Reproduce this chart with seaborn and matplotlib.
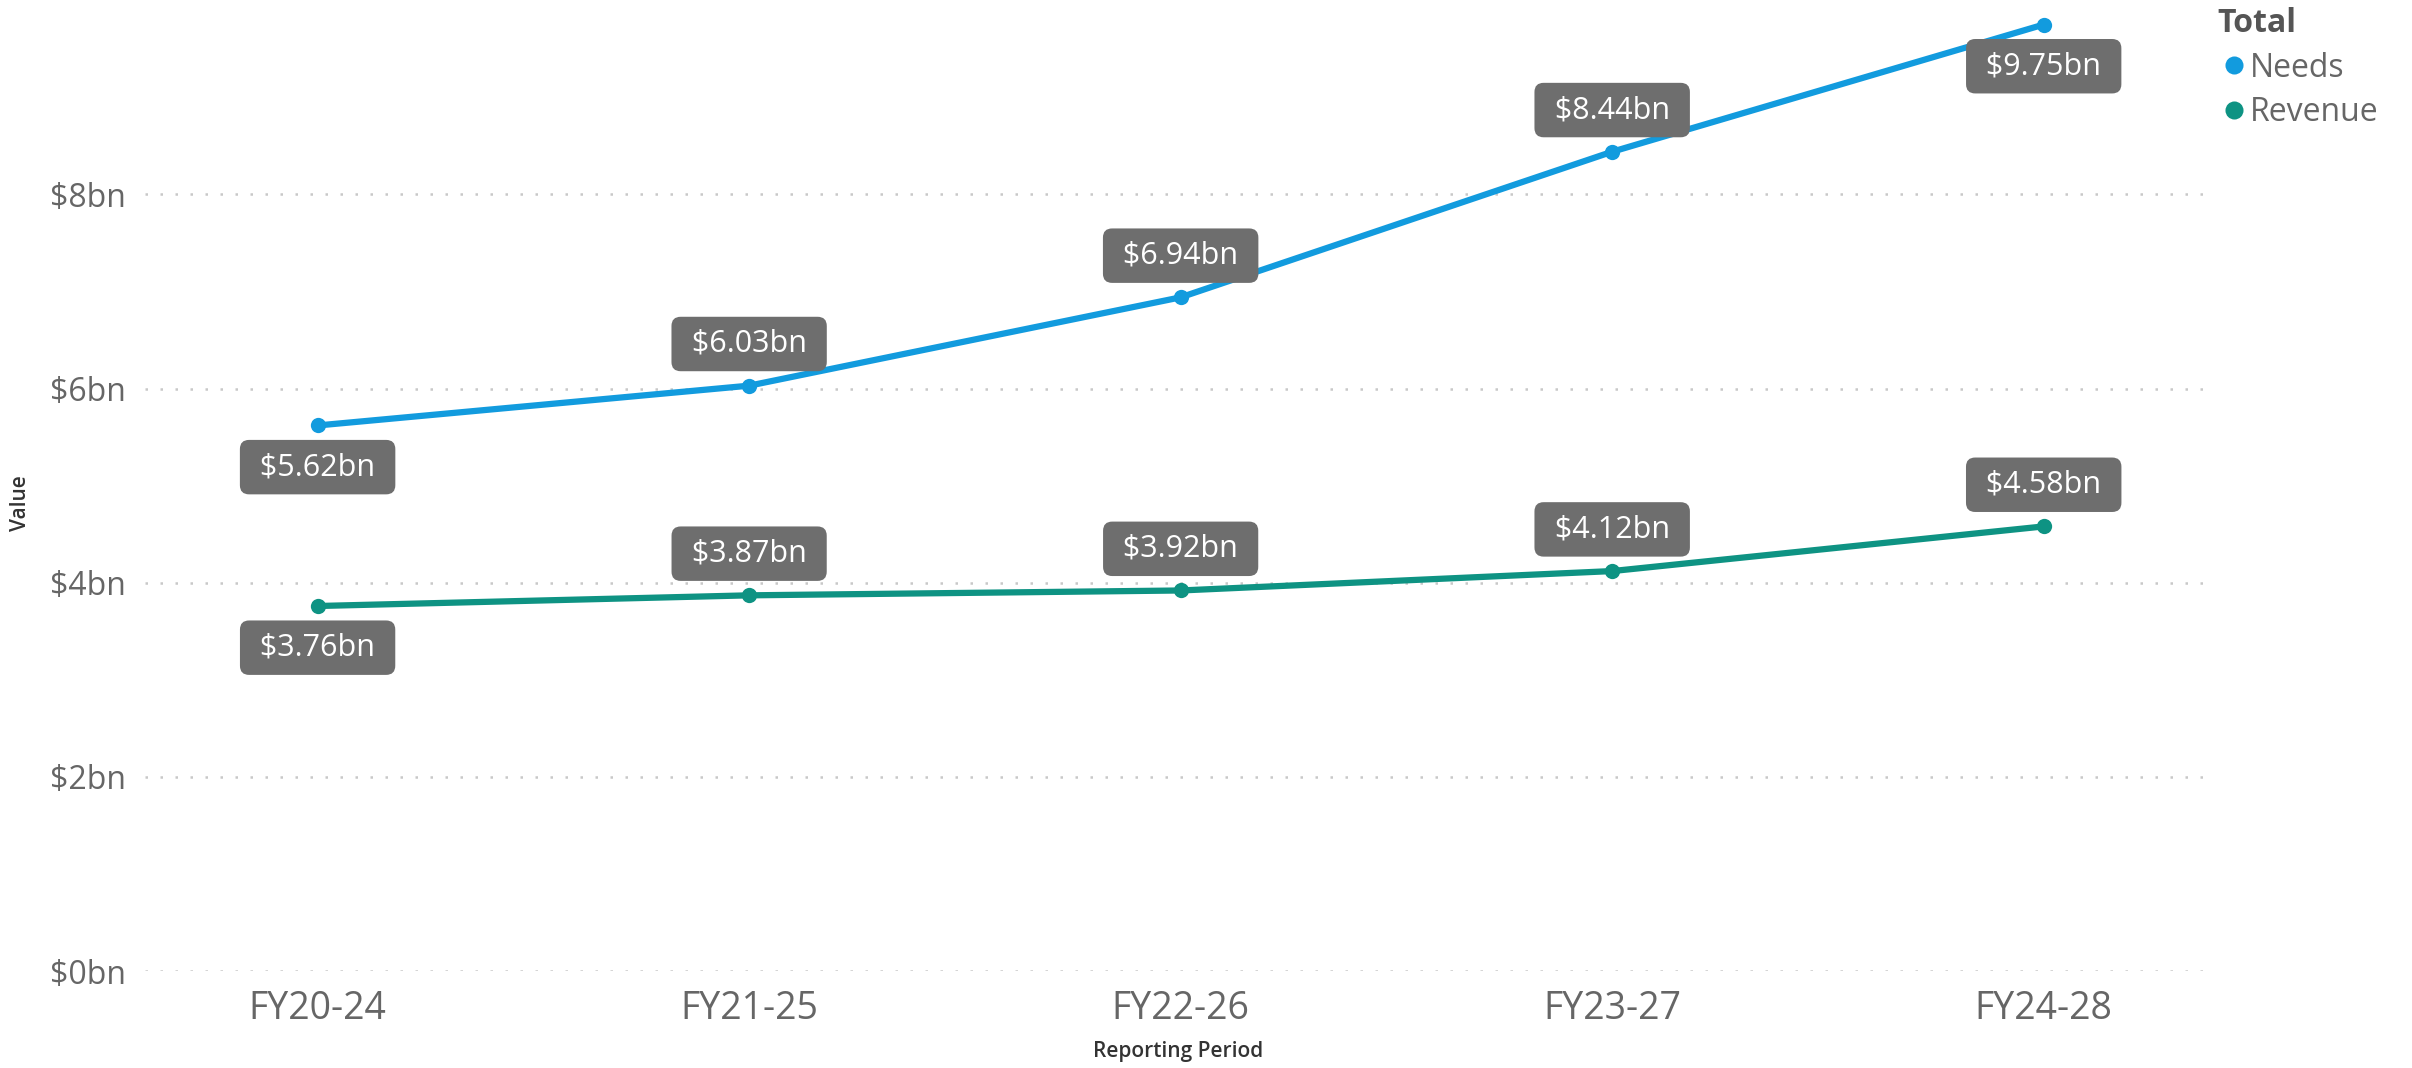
import matplotlib
matplotlib.use("Agg")
import matplotlib.pyplot as plt
import seaborn as sns
import pandas as pd
from matplotlib.lines import Line2D

periods = ["FY20-24", "FY21-25", "FY22-26", "FY23-27", "FY24-28"]
needs = [5.62, 6.03, 6.94, 8.44, 9.75]
revenue = [3.76, 3.87, 3.92, 4.12, 4.58]
series_names = ["Needs", "Revenue"]
# label placement: +1 above, -1 below
needs_label_side = [-1, 1, 1, 1, -1]
revenue_label_side = [-1, 1, 1, 1, 1]
yticks = [0, 2, 4, 6, 8]
ytick_labels = ["$0bn", "$2bn", "$4bn", "$6bn", "$8bn"]

colors = {"Needs": "#129BDE", "Revenue": "#0E9383"}
text_gray = "#666666"

df = pd.DataFrame({
    "Reporting Period": periods * 2,
    "Value": needs + revenue,
    "Series": ["Needs"] * len(periods) + ["Revenue"] * len(periods),
})

sns.set_theme(style="white")
plt.rcParams["font.family"] = ["Open Sans", "DejaVu Sans"]

fig = plt.figure(figsize=(24.12, 10.68), dpi=100)
ax = fig.add_axes([145 / 2412, 1 - 971 / 1068, (2212 - 145) / 2412, (971 - 10) / 1068])

sns.lineplot(data=df, x="Reporting Period", y="Value", hue="Series",
             palette=colors, marker="o", markersize=11, markeredgewidth=0,
             linewidth=4.5, sort=False, legend=False, ax=ax)

ax.set_xlim(-0.4, 4.39)
ax.set_ylim(0, 9.9)
ax.set_yticks(yticks)
ax.set_yticklabels(ytick_labels)
ax.set_xticks(range(len(periods)))
ax.set_xticklabels(periods)
ax.tick_params(axis="y", labelsize=23, labelcolor=text_gray, pad=14, length=0)
ax.tick_params(axis="x", labelsize=27, labelcolor=text_gray, pad=14, length=0)
for s in ax.spines.values():
    s.set_visible(False)
ax.grid(False)
for yv in yticks:
    ax.axhline(yv, color="#C8C8C8", linewidth=1.8, linestyle=(0, (1, 5)), zorder=0)

ax.set_xlabel("")
ax.set_ylabel("")
fig.text(21 / 2412, 1 - 503 / 1068, "Value", rotation=90, fontsize=15,
         color="#333333", ha="center", va="center", fontweight="semibold")
fig.text((145 + 2212) / 2 / 2412, 1 - 1051 / 1068, "Reporting Period", fontsize=15,
         color="#333333", ha="center", va="center", fontweight="semibold")

def label_points(vals, sides):
    for i, (v, s) in enumerate(zip(vals, sides)):
        ax.annotate(f" ${v:.2f}bn ", xy=(i, v), xytext=(0, 30 * s),
                    textcoords="offset points", ha="center", va="center",
                    fontsize=22, color="white", zorder=5,
                    bbox=dict(boxstyle="round,pad=0.4,rounding_size=0.3",
                              fc="#6E6E6E", ec="none"))

label_points(needs, needs_label_side)
label_points(revenue, revenue_label_side)

handles = [Line2D([], [], marker="o", linestyle="", markersize=13,
                  markerfacecolor=colors[n], markeredgewidth=0) for n in series_names]
leg = fig.legend(handles, series_names, title="Total", loc="upper left",
                 bbox_to_anchor=(2205 / 2412, 1.005), frameon=False,
                 fontsize=23, title_fontsize=23, handletextpad=0.0,
                 labelspacing=0.35, borderaxespad=0, alignment="left",
                 handlelength=1.0, labelcolor=text_gray)
leg.get_title().set_fontweight("bold")
leg.get_title().set_color("#555555")

fig.savefig("out.png", dpi=100, facecolor="white")
